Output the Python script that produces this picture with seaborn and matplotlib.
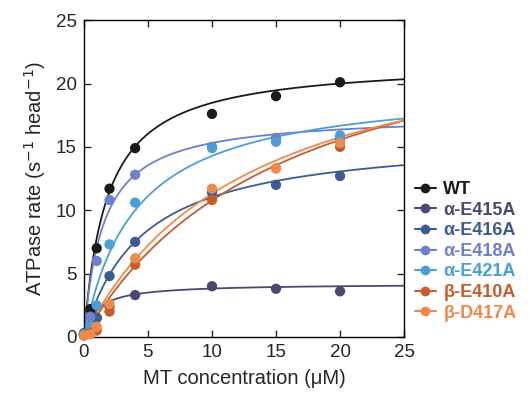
import matplotlib
matplotlib.use("Agg")
import matplotlib.pyplot as plt
import numpy as np
import pandas as pd
import seaborn as sns
from matplotlib.lines import Line2D

mt_conc = [0, 0.5, 1, 2, 4, 10, 15, 20]
series_names = ["WT", "α-E415A", "α-E416A", "α-E418A", "α-E421A", "β-E410A", "β-D417A"]
rate_wt = [0.2, 2.2, 7.0, 11.7, 14.9, 17.6, 19.0, 20.1]
rate_e415a = [0.3, 0.6, 1.5, 2.4, 3.3, 4.0, 3.8, 3.6]
rate_e416a = [0.2, 0.5, 1.5, 4.8, 7.5, 11.4, 12.0, 12.7]
rate_e418a = [0.2, 1.6, 6.0, 10.8, 12.8, 15.0, 15.7, 15.6]
rate_e421a = [0.2, 0.8, 2.5, 7.3, 10.6, 14.9, 15.4, 15.9]
rate_e410a = [0.1, 0.3, 0.5, 2.0, 5.7, 10.8, 13.3, 15.0]
rate_d417a = [0.1, 0.2, 0.8, 2.6, 6.2, 11.7, 13.3, 15.3]

# Michaelis-Menten fit parameters (kcat, K0.5 MT) as drawn in the figure
kcat = [21.8, 4.2, 16.0, 17.6, 20.0, 28.0, 26.0]
k_mt = [1.8, 1.0, 4.5, 1.5, 4.0, 16.0, 13.0]

colors = ["#1a1a1a", "#4b4872", "#3c5b93", "#6e7fcb", "#4aa0d6", "#c55e2a", "#f08a4b"]
palette = dict(zip(series_names, colors))

rates = [rate_wt, rate_e415a, rate_e416a, rate_e418a, rate_e421a, rate_e410a, rate_d417a]
points = pd.DataFrame(
    [(n, x, y) for n, r in zip(series_names, rates) for x, y in zip(mt_conc, r)],
    columns=["name", "mt", "rate"],
)

x_fit = np.linspace(0, 25, 300)
fits = pd.DataFrame(
    [(n, x, v * x / (k + x)) for n, v, k in zip(series_names, kcat, k_mt) for x in x_fit],
    columns=["name", "mt", "rate"],
)

sns.set_style("ticks")
plt.rcParams["font.family"] = ["Liberation Sans", "DejaVu Sans"]

fig = plt.figure(figsize=(5.31, 4.03), dpi=100)
ax = fig.add_axes([0.158, 0.164, 0.603, 0.786])

sns.lineplot(data=fits, x="mt", y="rate", hue="name", palette=palette,
             hue_order=series_names, linewidth=1.3, legend=False, ax=ax)
sns.scatterplot(data=points, x="mt", y="rate", hue="name", palette=palette,
                hue_order=series_names, s=55, edgecolor="none", legend=False,
                ax=ax, clip_on=False, zorder=3)

ax.set_xlim(0, 25)
ax.set_ylim(0, 25)
ax.set_xticks(range(0, 26, 5))
ax.set_yticks(range(0, 26, 5))
ax.tick_params(direction="in", length=5, width=1, labelsize=13.5, top=True, right=True,
               labeltop=False, labelright=False, pad=5)
for sp in ax.spines.values():
    sp.set_linewidth(1)
    sp.set_color("black")
ax.set_xlabel("MT concentration (μM)", fontsize=14.5, labelpad=6)
ax.set_ylabel("ATPase rate (s$^{-1}$ head$^{-1}$)", fontsize=14.5, labelpad=6)

handles = [Line2D([0], [0], color=c, marker="o", markersize=6, linewidth=1.5) for c in colors]
leg = ax.legend(handles, series_names, loc="center left", bbox_to_anchor=(1.01, 0.27),
                frameon=False, fontsize=13, handlelength=1.2, handletextpad=0.4,
                labelspacing=0.2, borderaxespad=0)
for txt, c in zip(leg.get_texts(), colors):
    txt.set_color(c)
    txt.set_fontweight("bold")

fig.savefig("out.png", dpi=100)
